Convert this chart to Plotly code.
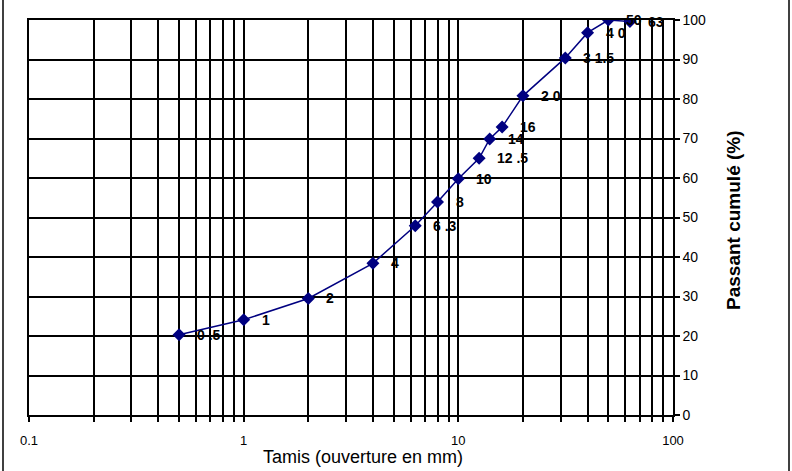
import math
import plotly.graph_objects as go

# ---- data ----
sieve_mm = [0.5, 1, 2, 4, 6.3, 8, 10, 12.5, 14, 16, 20, 31.5, 40, 50, 63]
passing_pct = [20.3, 24.1, 29.5, 38.4, 47.9, 53.9, 59.8, 65.0, 69.9, 72.9, 80.8, 90.4, 96.8, 100, 99.6]
point_labels = ["0 .5", "1", "2", "4", "6 .3", "8", "10", "12 .5", "14", "16",
                "2 0", "3 1.5", "4 0", "50", "63"]

x_tick_vals = [round(m * 10 ** e, 6) for e in (-1, 0, 1) for m in range(1, 10)] + [100]
x_tick_text = ["0.1"] + [""] * 8 + ["1"] + [""] * 8 + ["10"] + [""] * 8 + ["100"]
y_tick_vals = list(range(0, 101, 10))

x_title = "Tamis (ouverture en mm)"
y_title = "Passant cumulé (%)"

FONT = "Liberation Sans, Arial, sans-serif"
NAVY = "#000080"

fig = go.Figure()
fig.add_trace(go.Scatter(
    x=sieve_mm, y=passing_pct, mode="lines+markers",
    line=dict(color=NAVY, width=1.5),
    marker=dict(symbol="diamond", size=10, color=NAVY),
    showlegend=False, hoverinfo="x+y",
))

annotations = []
for xv, yv, lab in zip(sieve_mm, passing_pct, point_labels):
    annotations.append(dict(
        x=math.log10(xv), y=yv, xref="x", yref="y", text=lab, showarrow=False,
        xanchor="left", yanchor="middle", xshift=16,
        font=dict(family=FONT, size=14, color="black", weight="bold"),
    ))

# axis titles as annotations
annotations.append(dict(
    x=(363 - 29) / 644, y=(415 - 457) / 399, xref="paper", yref="paper",
    text=x_title, showarrow=False, xanchor="center", yanchor="middle",
    font=dict(family=FONT, size=18, color="black"),
))
annotations.append(dict(
    x=(734 - 29) / 644, y=(415 - 218) / 399, xref="paper", yref="paper",
    text=y_title, showarrow=False, xanchor="center", yanchor="middle", textangle=-90,
    font=dict(family=FONT, size=19, color="black", weight="bold"),
))

shapes = []
for px in (3, 789):
    shapes.append(dict(
        type="line", xref="paper", yref="paper",
        x0=(px - 29) / 644, x1=(px - 29) / 644, y0=-0.2, y1=1.1,
        line=dict(color="black", width=1.5),
    ))

fig.update_layout(
    width=792, height=471,
    margin=dict(l=29, r=119, t=16, b=56),
    paper_bgcolor="white", plot_bgcolor="white",
    font=dict(family=FONT, color="black"),
    annotations=annotations, shapes=shapes,
    xaxis=dict(
        type="log", range=[-1, 2],
        tickmode="array", tickvals=x_tick_vals, ticktext=x_tick_text,
        showgrid=True, gridcolor="black", gridwidth=1.5,
        ticks="outside", ticklen=5, tickcolor="black", tickwidth=1.5,
        showline=True, linecolor="black", linewidth=1.5, mirror=True,
        tickfont=dict(family=FONT, size=13, color="black"),
        ticklabelstandoff=8,
    ),
    yaxis=dict(
        side="right", range=[0, 100],
        tickmode="array", tickvals=y_tick_vals,
        showgrid=True, gridcolor="black", gridwidth=1.5,
        ticks="outside", ticklen=5, tickcolor="black", tickwidth=1.5,
        showline=True, linecolor="black", linewidth=1.5, mirror=True,
        zeroline=False,
        tickfont=dict(family=FONT, size=14, color="black"),
    ),
)

fig.write_html("out.html")
